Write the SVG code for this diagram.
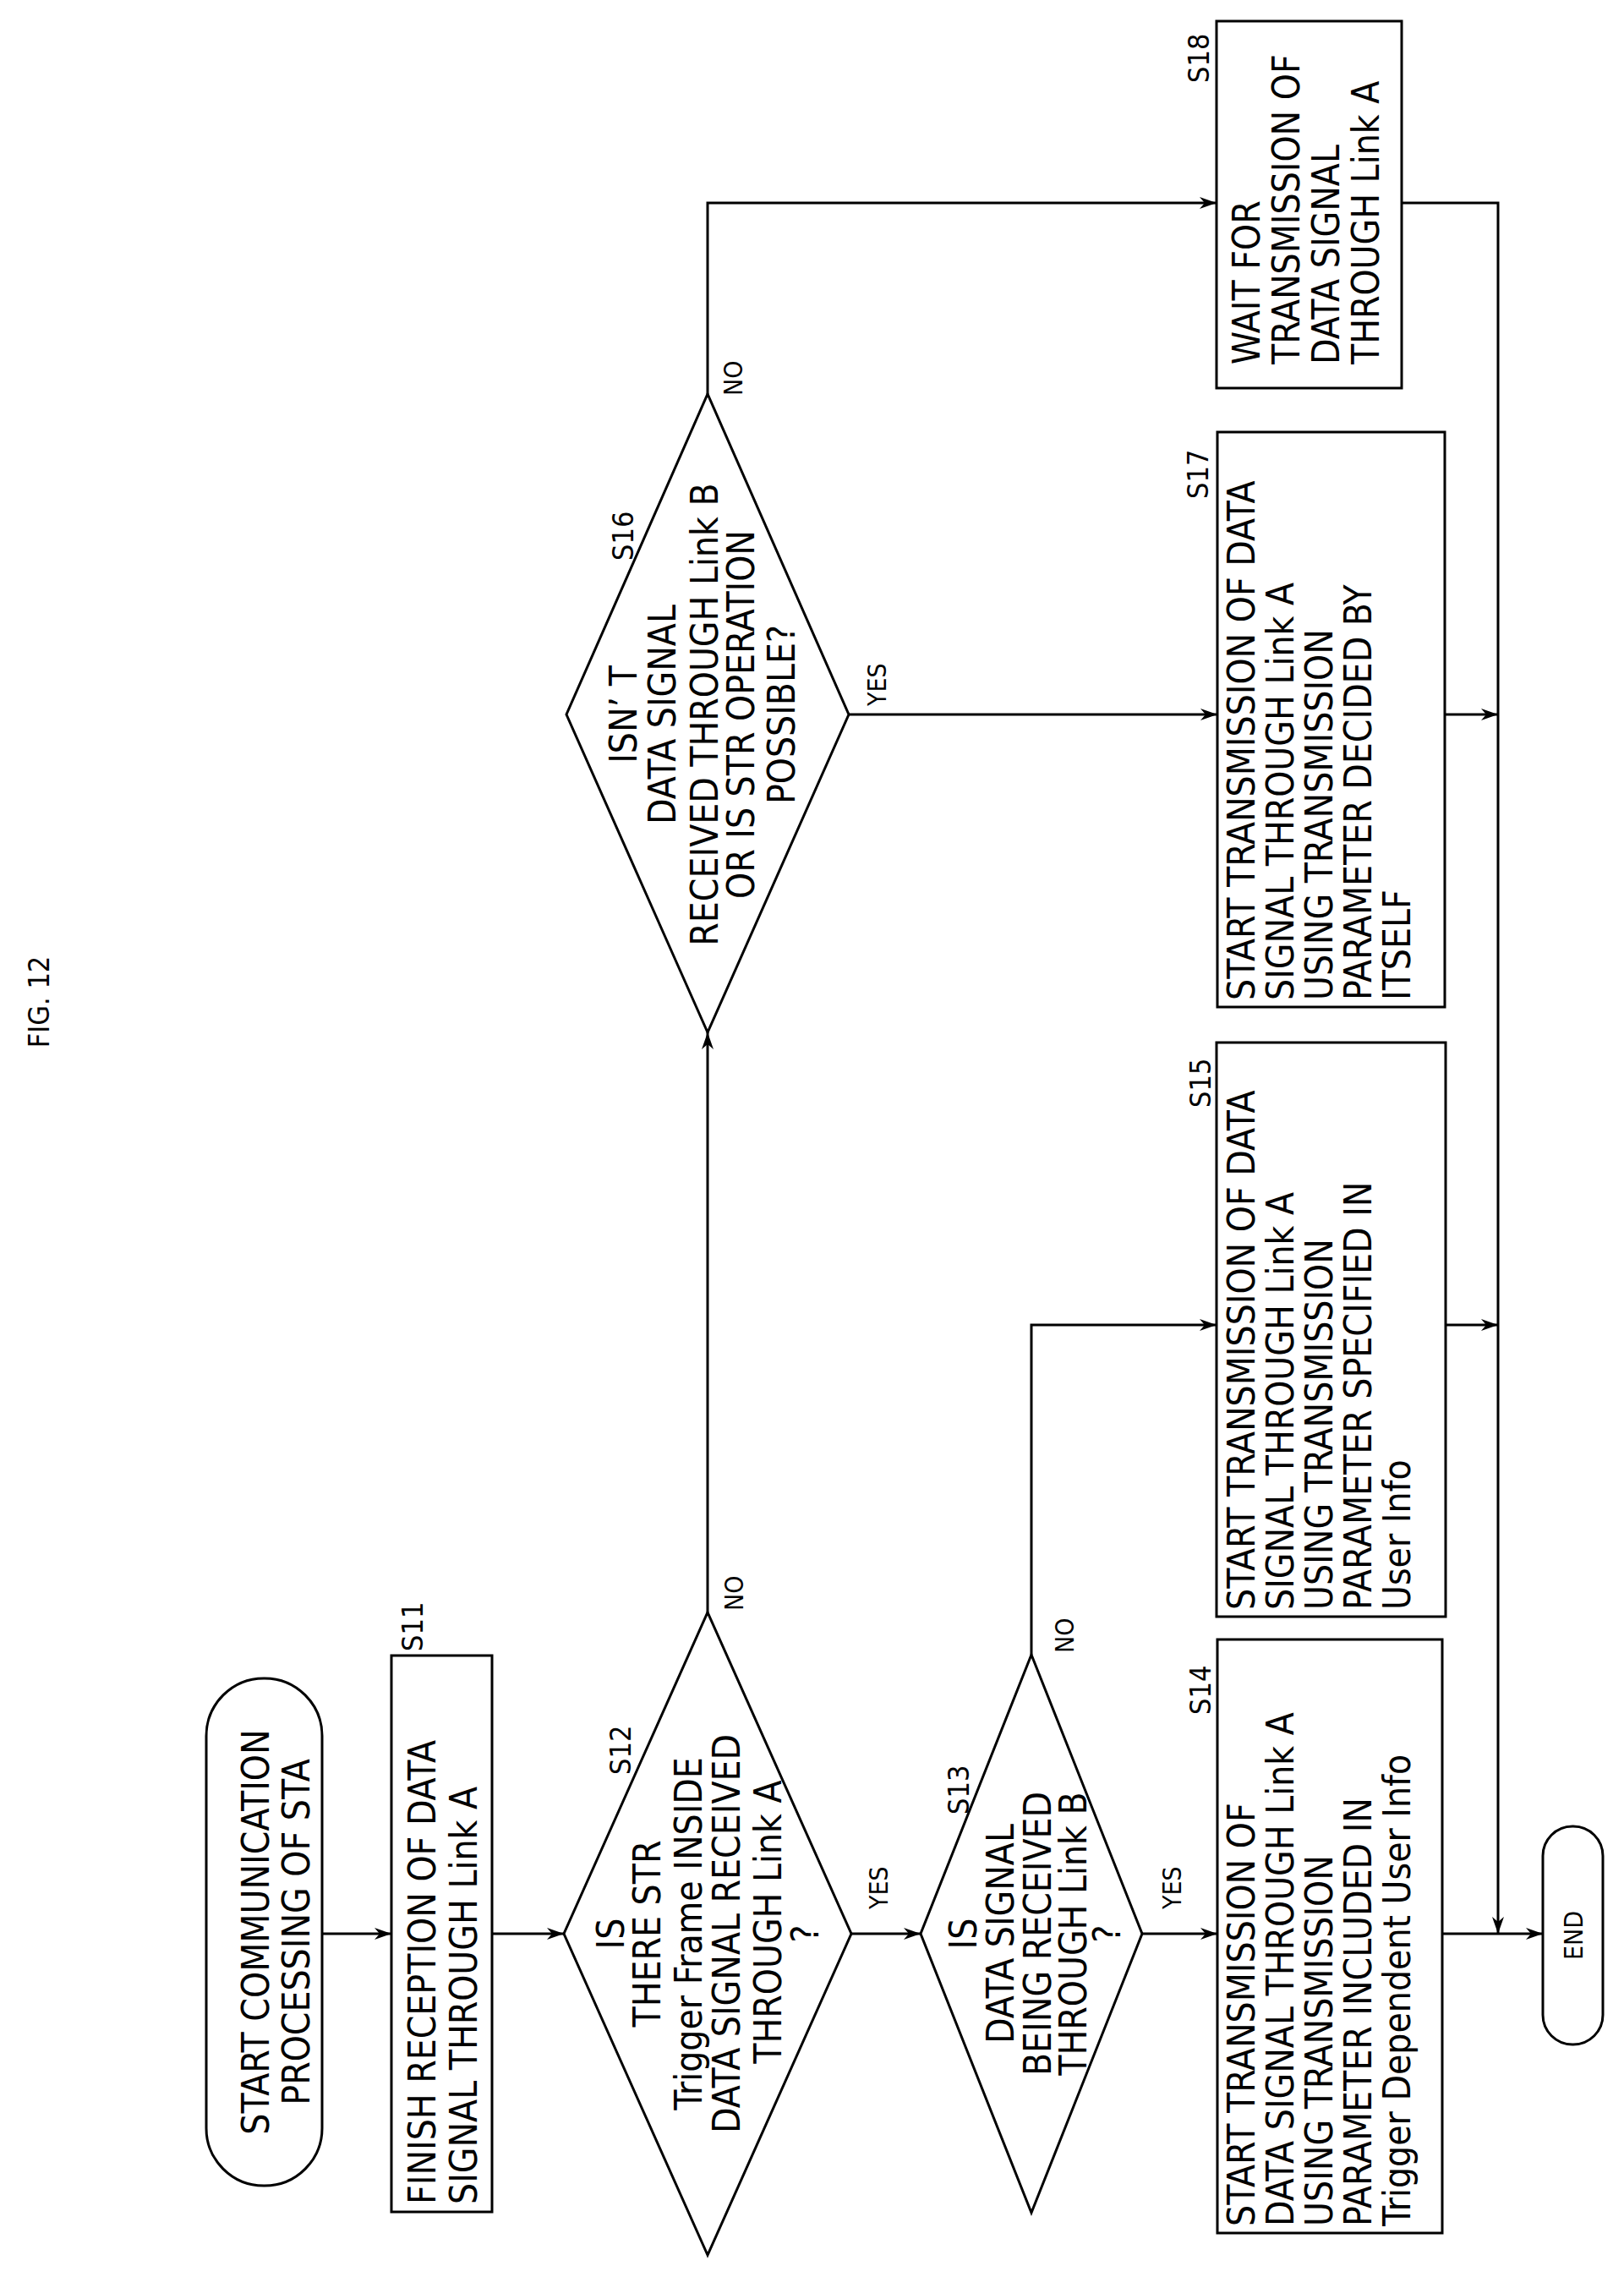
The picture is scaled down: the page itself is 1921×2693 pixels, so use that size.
<svg xmlns="http://www.w3.org/2000/svg" width="1921" height="2693" viewBox="0 0 1921 2693">
<style>
.s{fill:none;stroke:#000;stroke-width:3}
.c{fill:none;stroke:#000;stroke-width:3}
text{font-family:"DejaVu Sans Condensed","Liberation Sans Narrow","DejaVu Sans",sans-serif;fill:#000}
.t{font-size:44px}
.m{text-anchor:middle}
.l{font-size:34px}
.y{font-size:30px}
</style>
<defs>
<marker id="a" viewBox="0 0 20 14" refX="20" refY="7" markerWidth="20" markerHeight="14" markerUnits="userSpaceOnUse" orient="auto">
<path d="M0,0 L20,7 L0,14 L6,7 Z" fill="#000"/>
</marker>
</defs>
<rect width="1921" height="2693" fill="#fff"/>
<g transform="translate(0,2693) rotate(-90)">
<text class="l m" x="1508" y="58">FIG. 12</text>
<g id="start">
<rect class="s" x="108" y="244" width="600" height="137" rx="68"/>
<text class="t m" x="408" y="318">START COMMUNICATION</text>
<text class="t m" x="408" y="366">PROCESSING OF STA</text>
</g>
<g id="S11">
<rect class="s" x="77" y="463" width="658" height="119"/>
<text class="t" x="86" y="515">FINISH RECEPTION OF DATA</text>
<text class="t" x="86" y="564">SIGNAL THROUGH Link A</text>
<text class="l" x="740" y="500">S11</text>
</g>
<g id="S12">
<polygon class="s" points="26,837 406,667 786,837 406,1007"/>
<text class="t m" x="406" y="738">IS</text>
<text class="t m" x="406" y="781">THERE STR</text>
<text class="t m" x="406" y="830">Trigger Frame INSIDE</text>
<text class="t m" x="406" y="875">DATA SIGNAL RECEIVED</text>
<text class="t m" x="420" y="924">THROUGH Link A</text>
<text class="t m" x="406" y="968">?</text>
<text class="l" x="594" y="746">S12</text>
</g>
<g id="S13">
<polygon class="s" points="76,1220 406,1089 736,1220 406,1351"/>
<text class="t m" x="406" y="1155">IS</text>
<text class="t m" x="406" y="1199">DATA SIGNAL</text>
<text class="t m" x="406" y="1243">BEING RECEIVED</text>
<text class="t m" x="406" y="1285">THROUGH Link B</text>
<text class="t m" x="406" y="1325">?</text>
<text class="l" x="547" y="1146">S13</text>
</g>
<g id="S14">
<rect class="s" x="52" y="1440" width="702" height="266"/>
<text class="t" x="60" y="1484">START TRANSMISSION OF</text>
<text class="t" x="60" y="1530">DATA SIGNAL THROUGH Link A</text>
<text class="t" x="60" y="1576">USING TRANSMISSION</text>
<text class="t" x="60" y="1622">PARAMETER INCLUDED IN</text>
<text class="t" x="60" y="1668">Trigger Dependent User Info</text>
<text class="l" x="665" y="1432">S14</text>
</g>
<g id="S15">
<rect class="s" x="781" y="1439" width="679" height="271"/>
<text class="t" x="789" y="1484">START TRANSMISSION OF DATA</text>
<text class="t" x="789" y="1530">SIGNAL THROUGH Link A</text>
<text class="t" x="789" y="1576">USING TRANSMISSION</text>
<text class="t" x="789" y="1622">PARAMETER SPECIFIED IN</text>
<text class="t" x="789" y="1668">User Info</text>
<text class="l" x="1383" y="1432">S15</text>
</g>
<g id="S16">
<polygon class="s" points="1472,837 1848,670 2227,837 1848,1004"/>
<text class="t m" x="1848" y="753">ISN’ T</text>
<text class="t m" x="1848" y="799">DATA SIGNAL</text>
<text class="t m" x="1848" y="849">RECEIVED THROUGH Link B</text>
<text class="t m" x="1848" y="892">OR IS STR OPERATION</text>
<text class="t m" x="1848" y="940">POSSIBLE?</text>
<text class="l" x="2030" y="749">S16</text>
</g>
<g id="S17">
<rect class="s" x="1502" y="1440" width="680" height="269"/>
<text class="t" x="1510" y="1484">START TRANSMISSION OF DATA</text>
<text class="t" x="1510" y="1530">SIGNAL THROUGH Link A</text>
<text class="t" x="1510" y="1576">USING TRANSMISSION</text>
<text class="t" x="1510" y="1622">PARAMETER DECIDED BY</text>
<text class="t" x="1510" y="1668">ITSELF</text>
<text class="l" x="2103" y="1429">S17</text>
</g>
<g id="S18">
<rect class="s" x="2234" y="1439" width="434" height="219"/>
<text class="t" x="2262" y="1490">WAIT FOR</text>
<text class="t" x="2262" y="1537">TRANSMISSION OF</text>
<text class="t" x="2262" y="1584">DATA SIGNAL</text>
<text class="t" x="2262" y="1631">THROUGH Link A</text>
<text class="l" x="2595" y="1430">S18</text>
</g>
<g id="end">
<rect class="s" x="275" y="1825" width="258" height="71" rx="35"/>
<text class="y m" x="404" y="1872">END</text>
</g>
<g id="connectors">
<path class="c" d="M406,381 V463" marker-end="url(#a)"/>
<path class="c" d="M406,582 V667" marker-end="url(#a)"/>
<path class="c" d="M406,1007 V1089" marker-end="url(#a)"/>
<path class="c" d="M406,1351 V1440" marker-end="url(#a)"/>
<path class="c" d="M736,1220 H1126 V1439" marker-end="url(#a)"/>
<path class="c" d="M786,837 H1472" marker-end="url(#a)"/>
<path class="c" d="M1848,1004 V1440" marker-end="url(#a)"/>
<path class="c" d="M2227,837 H2453 V1439" marker-end="url(#a)"/>
<path class="c" d="M2453,1658 V1772 H406" marker-end="url(#a)"/>
<path class="c" d="M1848,1709 V1772" marker-end="url(#a)"/>
<path class="c" d="M1126,1710 V1772" marker-end="url(#a)"/>
<path class="c" d="M406,1706 V1825" marker-end="url(#a)"/>
<text class="y" x="435" y="1050">YES</text>
<text class="y" x="435" y="1397">YES</text>
<text class="y" x="788" y="879">NO</text>
<text class="y" x="738" y="1270">NO</text>
<text class="y" x="1858" y="1048">YES</text>
<text class="y" x="2225" y="878">NO</text>
</g>
</g>
</svg>
